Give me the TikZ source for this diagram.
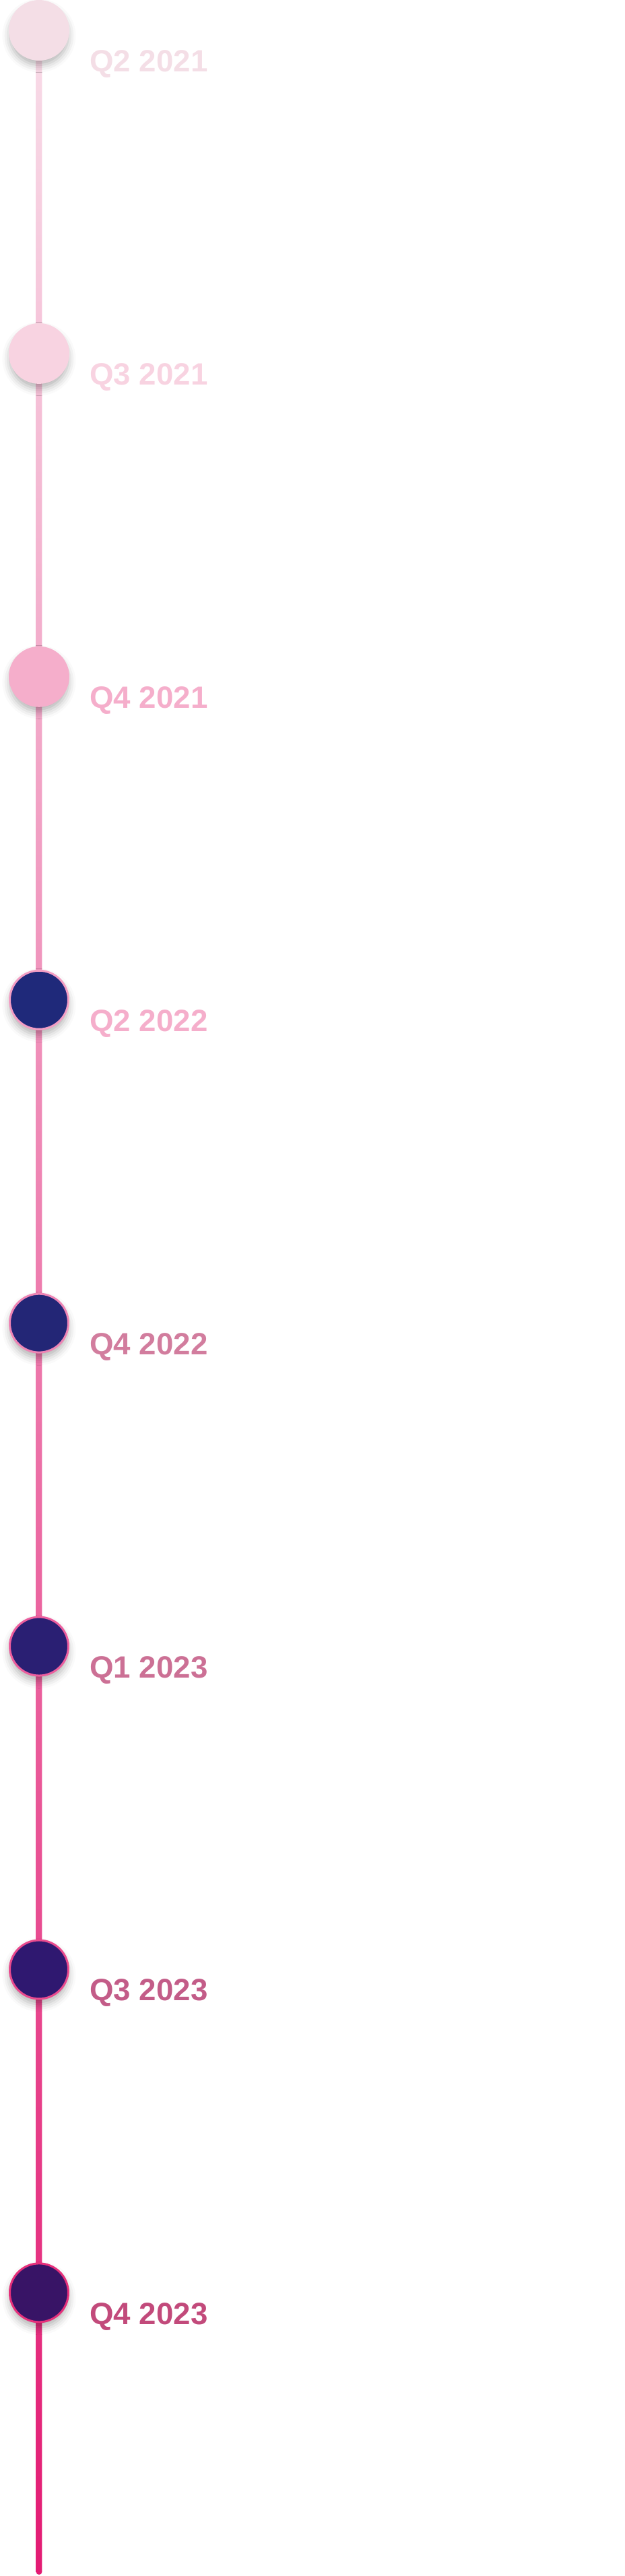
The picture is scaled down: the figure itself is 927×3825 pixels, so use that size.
\documentclass[tikz,border=0pt]{standalone}
\usepackage{fontspec}
\setmainfont{Liberation Sans}
\usetikzlibrary{positioning, backgrounds, shadows.blur}
\definecolor{lineTop}{HTML}{F8DCE8}
\definecolor{lineBot}{HTML}{E31B73}
\definecolor{fillA}{HTML}{F4DEE6}
\definecolor{fillB}{HTML}{F8D3E1}
\definecolor{fillC}{HTML}{F5AECB}
\definecolor{fillD}{HTML}{1F297A}
\definecolor{fillE}{HTML}{232676}
\definecolor{fillF}{HTML}{2A1F73}
\definecolor{fillG}{HTML}{2F1870}
\definecolor{fillH}{HTML}{381466}
\definecolor{rimD}{HTML}{F39EC4}
\definecolor{rimE}{HTML}{EE85B5}
\definecolor{rimF}{HTML}{EC5E9E}
\definecolor{rimG}{HTML}{E94A8E}
\definecolor{rimH}{HTML}{E6307B}
\definecolor{txtE}{HTML}{D27D9E}
\definecolor{txtF}{HTML}{CC7095}
\definecolor{txtG}{HTML}{C35C88}
\definecolor{txtH}{HTML}{C24A7B}

\begin{document}
\begin{tikzpicture}[
    x=0.02cm, y=-0.02cm,
    dot/.style={circle, inner sep=0pt, minimum size=1.74cm, line width=0.06cm,
      blur shadow={shadow xshift=0pt, shadow yshift=-0.16cm, shadow blur radius=0.22cm, shadow opacity=30}},
    lbl/.style={anchor=base west, inner sep=0pt, font=\fontsize{26}{30}\selectfont\bfseries},
  ]
    \useasboundingbox (0,0) rectangle (927,3825);

    \node[dot, fill=fillA, draw=fillA] (c1) at (58,45) {};
    \node[dot, fill=fillB, draw=fillB, below=7.8cm of c1] (c2) {};
    \node[dot, fill=fillC, draw=fillC, below=7.8cm of c2] (c3) {};
    \node[dot, fill=fillD, draw=rimD, below=7.8cm of c3] (c4) {};
    \node[dot, fill=fillE, draw=rimE, below=7.8cm of c4] (c5) {};
    \node[dot, fill=fillF, draw=rimF, below=7.8cm of c5] (c6) {};
    \node[dot, fill=fillG, draw=rimG, below=7.8cm of c6] (c7) {};
    \node[dot, fill=fillH, draw=rimH, below=7.8cm of c7] (c8) {};
    \coordinate (tail) at (58,3823);

    \node[lbl, text=fillA] (t1) at ([xshift=1.5cm, yshift=-1.24cm]c1.center) {Q2 2021};
    \node[lbl, text=fillB] (t2) at ([xshift=1.5cm, yshift=-0.93cm]c2.center) {Q3 2021};
    \node[lbl, text=fillC] (t3) at ([xshift=1.5cm, yshift=-0.94cm]c3.center) {Q4 2021};
    \node[lbl, text=fillC] (t4) at ([xshift=1.5cm, yshift=-0.94cm]c4.center) {Q2 2022};
    \node[lbl, text=txtE] (t5) at ([xshift=1.5cm, yshift=-0.93cm]c5.center) {Q4 2022};
    \node[lbl, text=txtF] (t6) at ([xshift=1.5cm, yshift=-0.93cm]c6.center) {Q1 2023};
    \node[lbl, text=txtG] (t7) at ([xshift=1.5cm, yshift=-0.93cm]c7.center) {Q3 2023};
    \node[lbl, text=txtH] (t8) at ([xshift=1.5cm, yshift=-0.94cm]c8.center) {Q4 2023};

    % the time line runs behind the dots
    \begin{scope}[on background layer]
      \shade[top color=lineTop, bottom color=lineBot, rounded corners=0.09cm]
        ([xshift=-0.09cm]c1.center) rectangle ([xshift=0.09cm]tail);
    \end{scope}
  \end{tikzpicture}
\end{document}
